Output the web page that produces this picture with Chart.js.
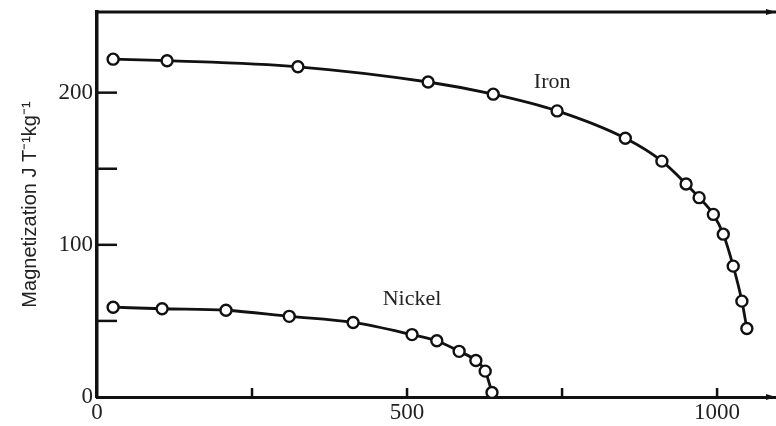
<!DOCTYPE html>
<html>
<head>
<meta charset="utf-8">
<script src="https://cdn.jsdelivr.net/npm/chart.js@4.4.0/dist/chart.umd.min.js"></script>
<style>
  html, body { margin: 0; padding: 0; background: #fff; }
  #wrap { width: 776px; height: 426px; }
</style>
</head>
<body>
<div id="wrap"><canvas id="myChart"></canvas></div>
<script>
// values (temperature in K, magnetization in J T-1 kg-1)
const ironTemp = [26, 113, 324, 534, 639, 742, 852, 911, 950, 971, 994, 1010, 1026, 1040, 1048];
const ironMag = [222, 221, 217, 207, 199, 188, 170, 155, 140, 131, 120, 107, 86, 63, 45];
const nickelTemp = [26, 105, 208, 310, 413, 508, 548, 584, 611, 626, 637];
const nickelMag = [59, 58, 57, 53, 49, 41, 37, 30, 24, 17, 3];
const xLabels = [0, 500, 1000];
const yLabels = [0, 100, 200];
const seriesNames = ["Iron", "Nickel"];

const ink = "#111";

function toPoints(xs, ys) {
  return xs.map((x, i) => ({ x: x, y: ys[i] }));
}

function lineSet(name, xs, ys) {
  return {
    label: name,
    data: toPoints(xs, ys),
    showLine: true,
    cubicInterpolationMode: "monotone",
    borderColor: ink,
    borderWidth: 2.8,
    pointRadius: 5.5,
    pointBorderWidth: 2.4,
    pointBackgroundColor: "#fff",
    pointBorderColor: ink,
  };
}

// inward tick marks, top frame line, arrow heads and curve names
const decor = {
  id: "decor",
  afterDatasetsDraw(chart) {
    const ctx = chart.ctx;
    const area = chart.chartArea;
    const xs = chart.scales.x;
    const ys = chart.scales.y;
    ctx.save();
    ctx.strokeStyle = ink;
    ctx.fillStyle = ink;
    ctx.lineWidth = 2.5;

    ys.ticks.forEach((t) => {
      if (t.value === 0 || t.value > 200) return;
      const py = ys.getPixelForValue(t.value);
      ctx.beginPath();
      ctx.moveTo(area.left, py);
      ctx.lineTo(area.left + 20, py);
      ctx.stroke();
    });
    xs.ticks.forEach((t) => {
      if (t.value === 0) return;
      const px = xs.getPixelForValue(t.value);
      ctx.beginPath();
      ctx.moveTo(px, area.bottom);
      ctx.lineTo(px, area.bottom - 9);
      ctx.stroke();
    });

    // top frame line
    ctx.lineWidth = 3;
    ctx.beginPath();
    ctx.moveTo(area.left - 1, area.top);
    ctx.lineTo(area.right, area.top);
    ctx.stroke();

    [area.top, area.bottom].forEach((py) => {
      ctx.beginPath();
      ctx.moveTo(area.right, py);
      ctx.lineTo(area.right - 10, py - 3);
      ctx.lineTo(area.right - 10, py + 3);
      ctx.closePath();
      ctx.fill();
    });

    ctx.font = "22px 'Liberation Serif', serif";
    ctx.textAlign = "center";
    ctx.textBaseline = "middle";
    ctx.fillStyle = "#222";
    ctx.fillText(seriesNames[0], xs.getPixelForValue(734), ys.getPixelForValue(207));
    ctx.fillText(seriesNames[1], xs.getPixelForValue(508), ys.getPixelForValue(64));
    ctx.restore();
  },
};

const config = {
  type: "scatter",
  data: {
    datasets: [
      lineSet(seriesNames[0], ironTemp, ironMag),
      lineSet(seriesNames[1], nickelTemp, nickelMag),
    ],
  },
  options: {
    responsive: true,
    maintainAspectRatio: false,
    animation: false,
    layout: { autoPadding: false, padding: { top: 12, right: 0, left: 0, bottom: 0 } },
    plugins: {
      legend: { display: false },
      tooltip: { enabled: false },
    },
    scales: {
      x: {
        type: "linear",
        min: 0,
        max: 1095,
        grid: { display: false, drawTicks: false },
        border: { display: true, color: ink, width: 3 },
        ticks: {
          stepSize: 250,
          includeBounds: false,
          autoSkip: false,
          maxRotation: 0,
          padding: 2,
          color: "#222",
          font: { family: "'Liberation Serif', serif", size: 23 },
          callback: (v) => (xLabels.includes(v) ? String(v) : ""),
        },
        afterFit: (s) => {
          s.height = 29;
          s.paddingLeft = 0;
          s.paddingRight = 0;
        },
      },
      y: {
        type: "linear",
        min: 0,
        max: 253,
        grid: { display: false, drawTicks: false },
        border: { display: true, color: ink, width: 3.5 },
        ticks: {
          stepSize: 50,
          includeBounds: false,
          autoSkip: false,
          padding: 4,
          color: "#222",
          font: { family: "'Liberation Serif', serif", size: 23 },
          callback: (v) => (yLabels.includes(v) ? String(v) : ""),
        },
        title: {
          display: true,
          text: "Magnetization J T\u207B\u00B9kg\u207B\u00B9",
          color: "#222",
          padding: { top: 18, bottom: 0 },
          font: { family: "'Liberation Sans Narrow', 'Liberation Sans', sans-serif", size: 20 },
        },
        afterFit: (s) => {
          s.width = 97;
          s.paddingTop = 0;
          s.paddingBottom = 0;
        },
      },
    },
  },
  plugins: [decor],
};

const myChart = new Chart(document.getElementById("myChart"), config);
</script>
</body>
</html>
